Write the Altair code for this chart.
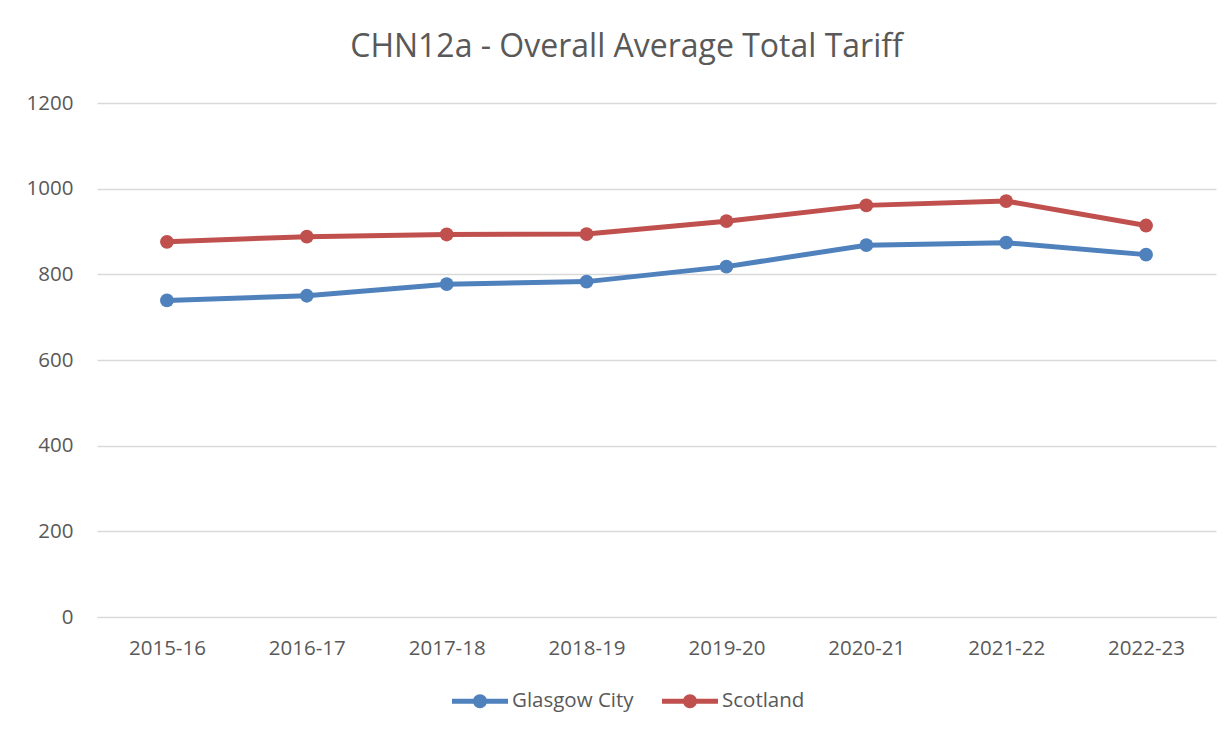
import altair as alt
import pandas as pd

years = ["2015-16", "2016-17", "2017-18", "2018-19", "2019-20", "2020-21", "2021-22", "2022-23"]
glasgow = [739, 750, 777, 783, 818, 868, 874, 846]
scotland = [876, 888, 893, 894, 924, 961, 971, 914]
series_names = ["Glasgow City", "Scotland"]
series_colors = ["#4F81BD", "#C0504D"]
y_ticks = [0, 200, 400, 600, 800, 1000, 1200]

rows = []
for name, vals in zip(series_names, [glasgow, scotland]):
    for yr, v in zip(years, vals):
        rows.append({"year": yr, "series": name, "value": v})
df = pd.DataFrame(rows)

FONT = "Open Sans"
TXT = "#595959"
GRID = "#D9D9D9"
LBL = 20.5

legend_symbol = (
    "M-1,-0.085L-0.2,-0.085L-0.2,0.085L-1,0.085Z "
    "M0.2,-0.085L1,-0.085L1,0.085L0.2,0.085Z "
    "M-0.25,0A0.25,0.25 0 1,1 0.25,0A0.25,0.25 0 1,1 -0.25,0Z"
)

x_enc = alt.X(
    "year:N", sort=years, title=None,
    scale=alt.Scale(paddingOuter=0.5, paddingInner=1),
    axis=alt.Axis(labelAngle=0, ticks=False, tickSize=0, domain=True, domainColor=GRID,
                  domainWidth=1, labelPadding=21, labelFontSize=LBL, labelColor=TXT,
                  labelFont=FONT, grid=False),
)
y_enc = alt.Y(
    "value:Q", title=None,
    scale=alt.Scale(domain=[0, 1200], nice=False, zero=True),
    axis=alt.Axis(values=y_ticks, format="d", ticks=False, tickSize=0, domain=False,
                  labelPadding=24, labelFontSize=LBL, labelColor=TXT, labelFont=FONT,
                  gridColor=GRID, gridWidth=1.3),
)
color_scale = alt.Scale(domain=series_names, range=series_colors)
legend = alt.Legend(
    orient="none", legendX=355, legendY=570, direction="horizontal",
    symbolType=legend_symbol, symbolSize=3136, symbolStrokeWidth=0,
    symbolOpacity=1, labelFontSize=LBL, labelColor=TXT, labelFont=FONT,
    labelOffset=4, columnPadding=28, padding=0,
)
color_enc = alt.Color("series:N", scale=color_scale, title=None, legend=legend)

lines = alt.Chart(df).mark_line(strokeWidth=5).encode(
    x=x_enc, y=y_enc, color=color_enc,
)
points = alt.Chart(df).mark_point(filled=True, size=190, opacity=1).encode(
    x=x_enc, y=y_enc, color=color_enc,
)

chart = alt.layer(lines, points).properties(
    width=1119,
    height=514,
    padding={"left": 89, "top": 95, "right": 3, "bottom": 110},
    autosize=alt.AutoSizeParams(type="none"),
    title=alt.Title(
        "CHN12a - Overall Average Total Tariff",
        fontSize=32, font=FONT, color=TXT, fontWeight="normal",
        anchor="middle", dx=-30, offset=29,
    ),
).configure_view(stroke=None)

chart.save("out.html", embed_options={"renderer": "svg", "actions": False})
